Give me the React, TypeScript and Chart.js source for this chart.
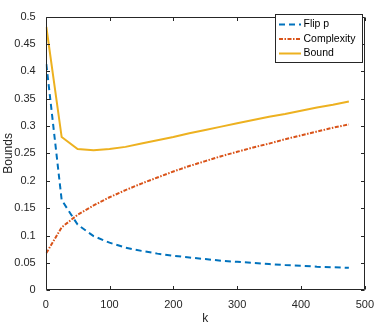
import React, { useEffect, useRef } from "react";
import { Chart, registerables } from "chart.js";

Chart.register(...registerables);

const kValues = [1, 25, 50, 75, 100, 125, 150, 175, 200, 225, 250, 275, 300, 325, 350, 375, 400, 425, 450, 475];
const flipP = [0.413, 0.165, 0.12, 0.099, 0.087, 0.078, 0.072, 0.067, 0.063, 0.06, 0.057, 0.054, 0.052, 0.05, 0.048, 0.046, 0.045, 0.043, 0.042, 0.041];
const complexity = [0.068, 0.115, 0.138, 0.155, 0.17, 0.183, 0.195, 0.206, 0.217, 0.227, 0.236, 0.245, 0.253, 0.261, 0.268, 0.276, 0.283, 0.29, 0.297, 0.303];
const bound = [0.481, 0.28, 0.258, 0.256, 0.258, 0.262, 0.268, 0.274, 0.28, 0.287, 0.293, 0.299, 0.305, 0.311, 0.317, 0.322, 0.328, 0.334, 0.339, 0.345];
const seriesLabels = ["Flip p", "Complexity", "Bound"];
const xTicks = [0, 100, 200, 300, 400, 500];
const yTicks = [0, 0.05, 0.1, 0.15, 0.2, 0.25, 0.3, 0.35, 0.4, 0.45, 0.5];
const xTitle = "k";
const yTitle = "Bounds";

const FONT = "'Liberation Sans', Arial, Helvetica, sans-serif";
const AXIS = "#262626";

const boxPlugin = {
  id: "matlabBox",
  afterDraw(chart: any) {
    const { ctx, chartArea } = chart;
    const xs = chart.scales.x;
    const ys = chart.scales.y;
    ctx.save();
    ctx.strokeStyle = AXIS;
    ctx.lineWidth = 1;
    const l = Math.round(chartArea.left) + 0.5;
    const r = Math.round(chartArea.right) - 0.5;
    const t = Math.round(chartArea.top) + 0.5;
    const b = Math.round(chartArea.bottom) - 0.5;
    ctx.beginPath();
    ctx.rect(l, t, r - l, b - t);
    ctx.stroke();
    const tl = 3.5;
    ctx.beginPath();
    for (const v of xTicks) {
      const px = Math.round(xs.getPixelForValue(v)) + 0.5;
      ctx.moveTo(px, b);
      ctx.lineTo(px, b - tl);
      ctx.moveTo(px, t);
      ctx.lineTo(px, t + tl);
    }
    for (const v of yTicks) {
      const py = Math.round(ys.getPixelForValue(v)) + 0.5;
      ctx.moveTo(l, py);
      ctx.lineTo(l + tl, py);
      ctx.moveTo(r, py);
      ctx.lineTo(r - tl, py);
    }
    ctx.stroke();

    // legend
    const bx = 275.5, by = 14.5, bw = 87, bh = 48;
    ctx.fillStyle = "#ffffff";
    ctx.fillRect(bx, by, bw, bh);
    ctx.strokeStyle = AXIS;
    ctx.lineWidth = 1;
    ctx.strokeRect(bx, by, bw, bh);
    const rows = [24.5, 39, 53.5];
    chart.data.datasets.forEach((ds: any, i: number) => {
      const y = rows[i];
      ctx.save();
      ctx.strokeStyle = ds.borderColor;
      ctx.lineWidth = ds.borderWidth;
      ctx.setLineDash(ds.borderDash || []);
      ctx.beginPath();
      ctx.moveTo(279, y);
      ctx.lineTo(301, y);
      ctx.stroke();
      ctx.restore();
      ctx.fillStyle = "#000000";
      ctx.font = `10.5px ${FONT}`;
      ctx.textBaseline = "middle";
      ctx.textAlign = "left";
      ctx.fillText(ds.label, 303.5, y);
    });
    ctx.restore();
  },
};

export default function App() {
  const ref = useRef<HTMLCanvasElement | null>(null);
  useEffect(() => {
    if (!ref.current) return;
    const chart = new Chart(ref.current, {
      type: "line",
      data: {
        datasets: [
          {
            label: seriesLabels[0],
            data: kValues.map((k, i) => ({ x: k, y: flipP[i] })),
            borderColor: "#0072BD",
            borderWidth: 2,
            borderDash: [6, 4],
            pointRadius: 0,
            fill: false,
            tension: 0,
          },
          {
            label: seriesLabels[1],
            data: kValues.map((k, i) => ({ x: k, y: complexity[i] })),
            borderColor: "#D95319",
            borderWidth: 2,
            borderDash: [4, 1.5, 1.5, 1.5],
            pointRadius: 0,
            fill: false,
            tension: 0,
          },
          {
            label: seriesLabels[2],
            data: kValues.map((k, i) => ({ x: k, y: bound[i] })),
            borderColor: "#EDB120",
            borderWidth: 2,
            pointRadius: 0,
            fill: false,
            tension: 0,
          },
        ],
      },
      options: {
        responsive: false,
        animation: false,
        devicePixelRatio: 1,
        layout: { padding: { top: 8.3, right: 11.7, left: 0, bottom: 0 } },
        plugins: { legend: { display: false }, tooltip: { enabled: false } },
        scales: {
          x: {
            type: "linear",
            min: 0,
            max: 500,
            afterBuildTicks: (scale: any) => {
              scale.ticks = xTicks.map((v) => ({ value: v }));
            },
            afterFit: (scale: any) => {
              scale.height = 36.7;
            },
            grid: { display: false, drawTicks: false },
            border: { display: false },
            ticks: {
              color: AXIS,
              font: { family: FONT, size: 11 },
              padding: 8,
              maxRotation: 0,
              autoSkip: false,
            },
            title: {
              display: true,
              text: xTitle,
              color: AXIS,
              font: { family: FONT, size: 12 },
              padding: { top: 0, bottom: 1 },
            },
          },
          y: {
            type: "linear",
            min: 0,
            max: 0.5,
            afterBuildTicks: (scale: any) => {
              scale.ticks = yTicks.map((v) => ({ value: v }));
            },
            afterFit: (scale: any) => {
              scale.width = 45.7;
            },
            grid: { display: false, drawTicks: false },
            border: { display: false },
            ticks: {
              color: AXIS,
              font: { family: FONT, size: 11 },
              padding: 10,
              autoSkip: false,
              callback: (v: any) => String(Math.round(Number(v) * 100) / 100),
            },
            title: {
              display: true,
              text: yTitle,
              color: AXIS,
              font: { family: FONT, size: 12 },
              padding: { top: 1, bottom: 0 },
            },
          },
        },
      },
      plugins: [boxPlugin],
    } as any);
    return () => chart.destroy();
  }, []);
  return (
    <canvas
      ref={ref}
      width={382}
      height={327}
      style={{ position: "fixed", left: 0, top: 0, width: 382, height: 327 }}
    />
  );
}
